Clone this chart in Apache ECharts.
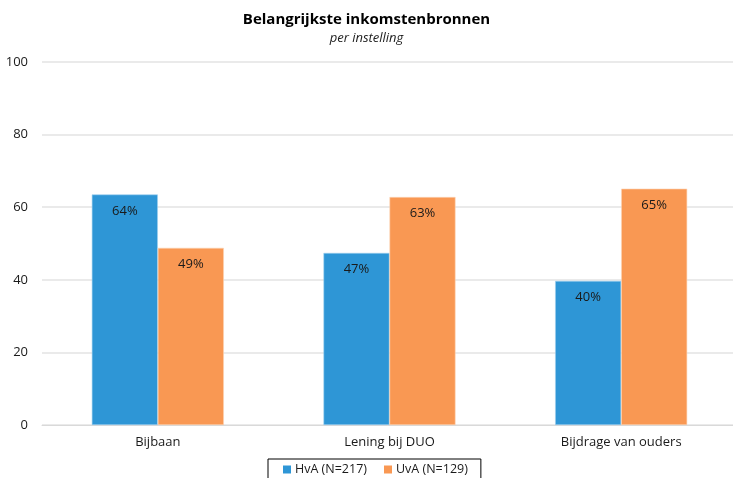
<!DOCTYPE html>
<html>
<head>
<meta charset="utf-8">
<script src="https://cdn.jsdelivr.net/npm/echarts@6/dist/echarts.min.js"></script>
<style>
    html, body {margin: 0; padding: 0; background: #fff;}
    #chart {width: 733px; height: 478px;}
</style>
</head>
<body>
<div id="chart"></div>
<script>
const categories = ['Bijbaan', 'Lening bij DUO', 'Bijdrage van ouders'];
const seriesNames = ['HvA (N=217)', 'UvA (N=129)'];
const hvaValues = [63.5, 47.4, 39.7];
const uvaValues = [48.8, 62.8, 65.1];
const yTicks = [0, 20, 40, 60, 80, 100];

const fontFamily = '"Open Sans", "Noto Sans", sans-serif';

const barLabel = {
    show: true,
    position: 'insideTop',
    distance: 10,
    color: '#1a1a1a',
    fontSize: 13,
    fontFamily: fontFamily,
    formatter: (p) => Math.round(p.value) + '%',
};

const chart = echarts.init(document.getElementById('chart'));
chart.setOption({
    animation: false,
    title: {
        text: 'Belangrijkste inkomstenbronnen',
        subtext: 'per instelling',
        left: 'center',
        top: 7,
        itemGap: 5,
        textStyle: {fontSize: 15, fontWeight: 'bold', color: '#000', fontFamily: fontFamily},
        subtextStyle: {fontSize: 13, fontStyle: 'italic', color: '#222', fontFamily: fontFamily},
    },
    color: ['#2E96D6', '#F99853'],
    legend: {
        data: seriesNames,
        bottom: -6,
        left: 268,
        padding: [4, 13, 8, 15],
        borderColor: '#000',
        borderWidth: 1,
        itemWidth: 8,
        itemHeight: 8,
        itemGap: 17,
        icon: 'rect',
        itemStyle: {borderWidth: 0},
        textStyle: {fontSize: 12.5, color: '#1a1a1a', fontFamily: fontFamily, padding: [0, 0, 0, -1]},
    },
    grid: {left: 42, right: -4, top: 62, bottom: 53, containLabel: false, outerBoundsMode: 'none'},
    xAxis: {
        type: 'category',
        data: categories,
        axisTick: {show: false},
        axisLine: {lineStyle: {color: '#d9d9d9', width: 1}},
        axisLabel: {fontSize: 13, color: '#1a1a1a', margin: 11, fontFamily: fontFamily},
    },
    yAxis: {
        type: 'value',
        min: yTicks[0],
        max: yTicks[yTicks.length - 1],
        interval: 20,
        axisLine: {show: false},
        axisTick: {show: false},
        splitLine: {lineStyle: {color: '#e3e3e3', width: 1.5}},
        axisLabel: {fontSize: 13, color: '#1a1a1a', margin: 14, fontFamily: fontFamily},
    },
    series: [
        {
            name: seriesNames[0],
            type: 'bar',
            data: hvaValues,
            barGap: '0%',
            barCategoryGap: '43%',
            itemStyle: {borderColor: '#9fd0ef', borderWidth: 0.6},
            label: barLabel,
        },
        {
            name: seriesNames[1],
            type: 'bar',
            data: uvaValues,
            itemStyle: {borderColor: '#fcd3b5', borderWidth: 0.6},
            label: barLabel,
        },
    ],
});
</script>
</body>
</html>
